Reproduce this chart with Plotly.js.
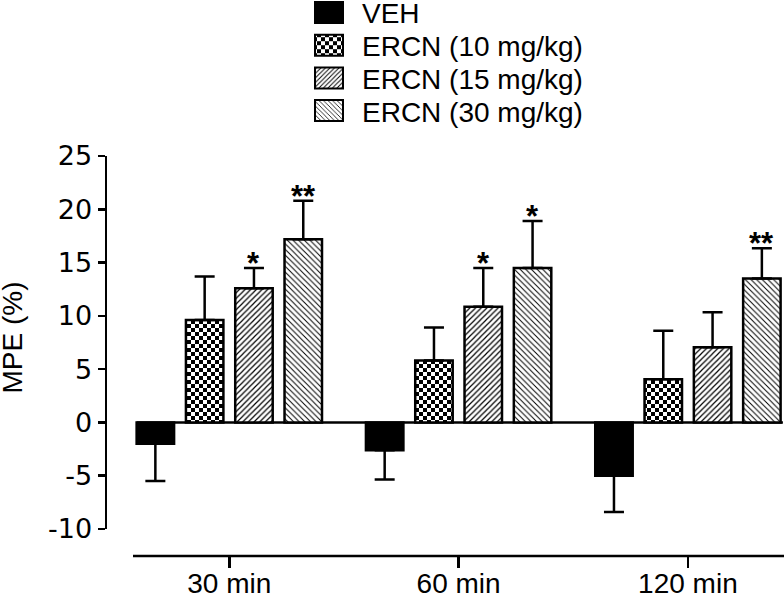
<!DOCTYPE html>
<html>
<head>
<meta charset="utf-8">
<script src="https://cdn.plot.ly/plotly-3.0.1.min.js"></script>
<style>html,body{margin:0;padding:0;background:#fff;}#chart{width:784px;height:598px;}</style>
</head>
<body>
<div id="chart"></div>
<script>
// ---- data ----
const categories = ["30 min", "60 min", "120 min"];
const seriesNames = ["VEH", "ERCN (10 mg/kg)", "ERCN (15 mg/kg)", "ERCN (30 mg/kg)"];
const vehMean    = [-2.0, -2.6, -5.0];
const vehSem     = [3.5, 2.75, 3.4];
const ercn10Mean = [9.6, 5.8, 4.05];
const ercn10Sem  = [4.1, 3.1, 4.55];
const ercn15Mean = [12.6, 10.85, 7.05];
const ercn15Sem  = [1.9, 3.65, 3.3];
const ercn30Mean = [17.2, 14.5, 13.5];
const ercn30Sem  = [3.6, 4.4, 2.85];
const ercn15Sig  = ["*", "*", ""];
const ercn30Sig  = ["**", "*", "**"];
const yTickVals  = [-10, -5, 0, 5, 10, 15, 20, 25];
const yTickText  = ["-10", "-5", "0", "5", "10", "15", "20", "25"];
const yTitle = "MPE (%)";

// ---- styling ----
const FONT = "Liberation Sans, Arial, sans-serif";
const TICKFONT = "DejaVu Sans, Liberation Sans, sans-serif";
const BARGAP = 0.14, BARGROUPGAP = 0.24, NSER = 4;
const LW = 2.5;

const means = [vehMean, ercn10Mean, ercn15Mean, ercn30Mean];
const sems  = [vehSem, ercn10Sem, ercn15Sem, ercn30Sem];
const patterns = [
  null,
  {shape: "+", size: 6, solidity: 0.5, fgcolor: "#000", bgcolor: "#fff", fillmode: "replace"},
  {shape: "/", size: 4.0, solidity: 0.3, fgcolor: "#000", bgcolor: "#fff", fillmode: "replace"},
  {shape: "\\", size: 4.0, solidity: 0.25, fgcolor: "#000", bgcolor: "#fff", fillmode: "replace"}
];

const data = means.map(function (m, i) {
  const marker = {color: i === 0 ? "#000" : "#fff", line: {color: "#000", width: LW}};
  if (patterns[i]) marker.pattern = patterns[i];
  return {
    type: "bar",
    name: seriesNames[i],
    x: categories,
    y: m,
    marker: marker,
    error_y: {
      type: "data", symmetric: false,
      array: m.map(function (v, k) { return v >= 0 ? sems[i][k] : 0; }),
      arrayminus: m.map(function (v, k) { return v < 0 ? sems[i][k] : 0; }),
      color: "#000", thickness: LW, width: 10
    },
    hoverinfo: "skip"
  };
});

// significance stars, positioned from the bar layout
const slot = (1 - BARGAP) / NSER;
function offsetOf(i) { return -(1 - BARGAP) / 2 + slot * (i + 0.5); }
const annotations = [];
[[2, ercn15Sig], [3, ercn30Sig]].forEach(function (pair) {
  const si = pair[0], sig = pair[1];
  sig.forEach(function (s, k) {
    if (!s) return;
    annotations.push({
      xref: "x", yref: "y", x: k + offsetOf(si), y: means[si][k] + sems[si][k],
      text: "<b>" + s + "</b>", showarrow: false, yanchor: "bottom", yshift: -15,
      font: {family: FONT, size: 31, color: "#000"}
    });
  });
});
annotations.push({
  xref: "paper", yref: "paper", x: -95 / 677, y: 218.5 / 400,
  xanchor: "center", yanchor: "middle", textangle: -90, showarrow: false,
  text: yTitle, font: {family: FONT, size: 28, color: "#000"}
});

const firstEdge = offsetOf(0) - slot * (1 - BARGROUPGAP) / 2;
const lastEdge = (categories.length - 1) + offsetOf(NSER - 1) + slot * (1 - BARGROUPGAP) / 2;

const layout = {
  width: 784, height: 598,
  margin: {l: 107, r: 0, t: 156, b: 42, autoexpand: false},
  paper_bgcolor: "#fff", plot_bgcolor: "#fff",
  font: {family: FONT, size: 28, color: "#000"},
  barmode: "group", bargap: BARGAP, bargroupgap: BARGROUPGAP,
  showlegend: true,
  legend: {
    xref: "container", yref: "container", x: 0.394, y: 1, xanchor: "left", yanchor: "top",
    font: {family: FONT, size: 28, color: "#000"}, itemwidth: 43,
    bgcolor: "rgba(0,0,0,0)", borderwidth: 0, traceorder: "normal", itemclick: false
  },
  xaxis: {
    type: "category", range: [-0.5334, 2.419], anchor: "free", position: 0,
    automargin: false, tickangle: 0, ticklabelstandoff: -9,
    showline: false, showgrid: false, zeroline: false,
    ticks: "outside", ticklen: 11, tickwidth: LW, tickcolor: "#000",
    tickfont: {family: FONT, size: 28, color: "#000"}, fixedrange: true
  },
  yaxis: {
    domain: [0.0675, 1], range: [-10, 25], anchor: "x", automargin: false,
    showline: true, linewidth: LW, linecolor: "#000", showgrid: false, zeroline: false,
    ticks: "outside", ticklen: 7, tickwidth: LW, tickcolor: "#000",
    tickmode: "array", tickvals: yTickVals, ticktext: yTickText,
    tickfont: {family: TICKFONT, size: 27, color: "#000"},
    fixedrange: true
  },
  shapes: [
    {type: "line", xref: "x", yref: "y", x0: firstEdge, x1: lastEdge + 0.01, y0: 0, y1: 0,
     line: {color: "#000", width: LW}, layer: "below"},
    {type: "line", xref: "paper", yref: "paper", x0: 26 / 677, x1: 1, y0: 0, y1: 0,
     line: {color: "#000", width: LW}}
  ],
  annotations: annotations
};

const gd = document.getElementById("chart");
Plotly.newPlot(gd, data, layout, {staticPlot: true, displayModeBar: false}).then(function () {
  const svgNS = "http://www.w3.org/2000/svg";
  const defs = gd.querySelector("svg.main-svg defs");
  const pat = document.createElementNS(svgNS, "pattern");
  pat.setAttribute("id", "chk");
  pat.setAttribute("patternUnits", "userSpaceOnUse");
  pat.setAttribute("width", "8");
  pat.setAttribute("height", "8");
  [[0, 0, 8, "#fff"], [0, 0, 4, "#000"], [4, 4, 4, "#000"]].forEach(function (r) {
    const rect = document.createElementNS(svgNS, "rect");
    rect.setAttribute("x", r[0]); rect.setAttribute("y", r[1]);
    rect.setAttribute("width", r[2]); rect.setAttribute("height", r[2]);
    rect.setAttribute("fill", r[3]);
    pat.appendChild(rect);
  });
  defs.appendChild(pat);
  const barTraces = gd.querySelectorAll(".barlayer .trace");
  if (barTraces[1]) barTraces[1].querySelectorAll("path").forEach(function (p) {
    if (p.closest(".errorbars")) return;
    p.style.fill = "url(#chk)";
  });
  // legend: larger swatches and tighter rows
  const items = gd.querySelectorAll(".legend .traces");
  items.forEach(function (g, i) {
    const parent = g.parentNode;
    const ctm = parent.getCTM();
    const y = 12.5 + i * 32.7 - ctm.f;
    const x = 309 - ctm.e;
    g.setAttribute("transform", "translate(" + x + "," + y + ")");
    const p = g.querySelector(".legendpoints path");
    if (p) {
      p.setAttribute("d", "M-14,-10.5h28v21h-28Z");
      p.setAttribute("transform", "translate(20,0)");
      p.style.strokeWidth = "2px";
      if (i === 1) p.style.fill = "url(#chk)";
    }
  });
});
</script>
</body>
</html>
